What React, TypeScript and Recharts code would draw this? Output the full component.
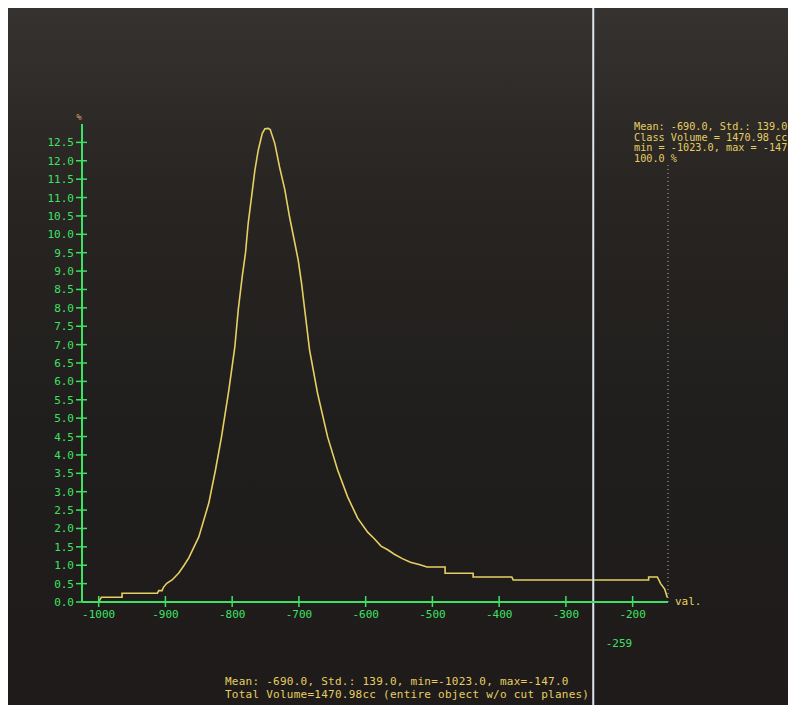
import React from "react";
import { LineChart, Line, XAxis, YAxis, ReferenceLine, Customized } from "recharts";

// ---- data ----
const binValues: number[] = [
  -1000, -996, -965, -965, -912, -910, -905, -903, -898, -890, -880, -872, -865, -850,
  -835, -825, -816, -805, -796, -791, -785, -780, -776, -771, -766, -761, -755, -751,
  -746, -743, -736, -729, -721, -714, -706, -701, -696, -684, -672, -657, -642, -627,
  -612, -597, -587, -577, -567, -557, -545, -533, -520, -508, -481, -481, -439, -439,
  -381, -379, -176, -176, -163, -158, -152, -148,
];
const percentValues: number[] = [
  0.0, 0.13, 0.13, 0.24, 0.24, 0.31, 0.31, 0.4, 0.51, 0.6, 0.79, 1.0, 1.2, 1.77,
  2.69, 3.59, 4.49, 5.76, 6.94, 7.93, 8.84, 9.5, 10.3, 11.01, 11.74, 12.28, 12.74, 12.87,
  12.88, 12.85, 12.46, 11.83, 11.2, 10.47, 9.75, 9.29, 8.66, 6.85, 5.67, 4.49, 3.59, 2.86,
  2.28, 1.9, 1.72, 1.52, 1.42, 1.3, 1.18, 1.08, 1.02, 0.95, 0.95, 0.78, 0.78, 0.68,
  0.68, 0.6, 0.6, 0.68, 0.68, 0.5, 0.35, 0.12,
];
const xTicks: number[] = [-1000, -900, -800, -700, -600, -500, -400, -300, -200];
const yTicks: number[] = [
  0, 0.5, 1, 1.5, 2, 2.5, 3, 3.5, 4, 4.5, 5, 5.5, 6, 6.5, 7, 7.5, 8, 8.5, 9, 9.5, 10,
  10.5, 11, 11.5, 12, 12.5,
];
const cursorValue = -259;
const maxValue = -147;
const statsLines: string[] = [
  "Mean: -690.0, Std.: 139.0",
  "Class Volume = 1470.98 cc",
  "min = -1023.0, max = -147.",
  "100.0 %",
];
const footerLines: string[] = [
  "Mean: -690.0, Std.: 139.0, min=-1023.0, max=-147.0",
  "Total Volume=1470.98cc (entire object w/o cut planes)",
];

const data = binValues.map((v, i) => ({ val: v, pct: percentValues[i] }));

const GREEN = "#3ee262";
const YELLOW = "#e6cf62";
const MONO = "'DejaVu Sans Mono', monospace";

const YTick = (props: any) => {
  const { x, y, payload } = props;
  return (
    <g>
      <line x1={x - 6} x2={x + 5} y1={y} y2={y} stroke={GREEN} strokeWidth={1.5} />
      <text x={x - 8} y={y} dy={4} textAnchor="end" fill={GREEN} fontSize={11} fontFamily={MONO}>
        {Number(payload.value).toFixed(1)}
      </text>
    </g>
  );
};

const XTick = (props: any) => {
  const { x, y, payload } = props;
  return (
    <g>
      <line x1={x} x2={x} y1={y - 6} y2={y + 5} stroke={GREEN} strokeWidth={1.5} />
      <text x={x} y={y + 16} textAnchor="middle" fill={GREEN} fontSize={11} fontFamily={MONO}>
        {payload.value}
      </text>
    </g>
  );
};

const Texts = () => (
  <g fontFamily={MONO}>
    {statsLines.map((s, i) => (
      <text key={s} x={626} y={122 + i * 10.5} fill={YELLOW} fontSize={10.2} xmlSpace="preserve">
        {s}
      </text>
    ))}
    {footerLines.map((s, i) => (
      <text
        key={s}
        x={217}
        y={677 + i * 12.5}
        fill={YELLOW}
        fontSize={11}
        letterSpacing={0.25}
        xmlSpace="preserve"
      >
        {s}
      </text>
    ))}
    <text x={611} y={639} textAnchor="middle" fill={GREEN} fontSize={11}>-259</text>
    <text x={667} y={597} fill={YELLOW} fontSize={11}>val.</text>
    <text x={71} y={112} textAnchor="middle" fill="#d9a45a" fontSize={9}>%</text>
  </g>
);

export default function App() {
  return (
    <div
      style={{
        width: 788,
        height: 697,
        background: "linear-gradient(180deg, #36322f 0%, #282523 25%, #201e1c 60%, #1e1b1a 100%)",
      }}
    >
      <LineChart
        width={788}
        height={697}
        data={data}
        margin={{ top: 116, right: 128, bottom: 73, left: 24 }}
      >
        <XAxis
          dataKey="val"
          type="number"
          domain={[-1025, -147]}
          ticks={xTicks}
          interval={0}
          allowDataOverflow
          height={30}
          tickSize={0}
          tickMargin={0}
          tickLine={false}
          tick={<XTick />}
          axisLine={{ stroke: GREEN, strokeWidth: 2 }}
        />
        <YAxis
          type="number"
          domain={[0, 13]}
          ticks={yTicks}
          interval={0}
          allowDataOverflow
          width={50}
          tickSize={0}
          tickMargin={0}
          tickLine={false}
          tick={<YTick />}
          axisLine={{ stroke: GREEN, strokeWidth: 2 }}
        />
        <ReferenceLine
          segment={[{ x: maxValue, y: 0 }, { x: maxValue, y: 11.9 }]}
          stroke="#9a9a9a"
          strokeDasharray="1 3"
          strokeWidth={1.2}
          ifOverflow="visible"
        />
        <Line
          dataKey="pct"
          type="linear"
          stroke={YELLOW}
          strokeWidth={1.6}
          dot={false}
          isAnimationActive={false}
        />
        <ReferenceLine
          segment={[{ x: cursorValue, y: -3 }, { x: cursorValue, y: 16.3 }]}
          stroke="#dce6ee"
          strokeWidth={2}
          ifOverflow="visible"
        />
        <Customized component={Texts} />
      </LineChart>
    </div>
  );
}
